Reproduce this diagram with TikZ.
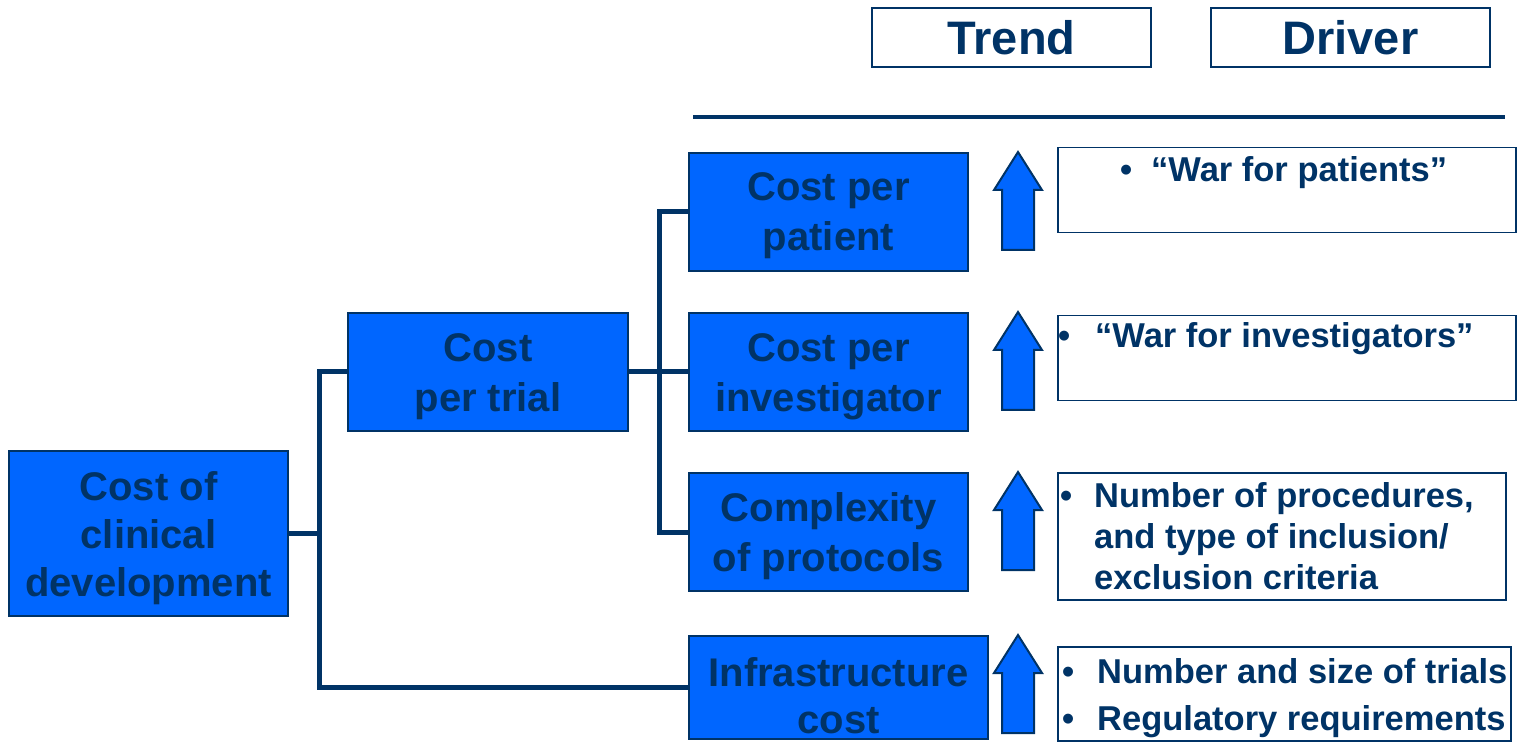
\documentclass[tikz,border=0pt]{standalone}
\usepackage{fontspec}
\setmainfont{Liberation Sans}
\usepackage{tikz}

\definecolor{navy}{RGB}{0,51,102}
\definecolor{boxblue}{RGB}{0,102,255}

\tikzset{
  uparr/.pic={
    \draw[navy,fill=boxblue,line width=2pt,line join=miter]
      (-16,0) -- (-16,-60) -- (-24,-60) -- (0,-98) -- (24,-60) -- (16,-60) -- (16,0) -- cycle;
  }
}

\begin{document}
\begin{tikzpicture}[x=1pt,y=-1pt,
    every node/.style={text=navy,font=\bfseries},
    costbox/.style={draw=navy,line width=2pt,fill=boxblue,anchor=north west,align=center,
      minimum width=279pt,minimum height=118pt,text height=84pt,text depth=6pt,
      font=\bfseries\fontsize{40}{50}\selectfont},
    drvbox/.style={draw=navy,line width=1.5pt,anchor=north west,minimum width=458pt},
    drvtxt/.style={anchor=base west,inner sep=0pt,font=\bfseries\fontsize{34.5}{41}\selectfont},
    headbox/.style={draw=navy,line width=1.5pt,minimum width=279pt,minimum height=59pt,
      inner sep=0pt,font=\bfseries\fontsize{47}{56}\selectfont},
    conn/.style={draw=navy,line width=5pt}]
  \useasboundingbox (0,0) rectangle (1519,743);

  % column heads
  \node[headbox] (trend)  at (1011.5,37.5) {Trend};
  \node[headbox] (driver) at (1350.5,37.5) {Driver};
  \coordinate (rulel) at (693,117);
  \coordinate (ruler) at (1505,117);
  \draw[navy,line width=3.5pt] (rulel) -- (ruler);

  % cost tree
  \node[costbox,minimum height=165pt,font=\bfseries\fontsize{40}{48}\selectfont,text height=130pt,text depth=5pt]
                                      (root)    at (8,450)   {Cost of\\clinical\\development};
  \node[costbox,minimum width=280pt]  (trial)   at (347,312) {Cost\\per trial};
  \node[costbox]                      (patient) at (688,152) {Cost per\\patient};
  \node[costbox]                      (invest)  at (688,312) {Cost per\\investigator};
  \node[costbox]                      (complex) at (688,472) {Complexity\\of protocols};
  \node[costbox,minimum width=299pt,minimum height=103pt,font=\bfseries\fontsize{40}{47}\selectfont,
        inner ysep=0pt,text height=96pt,text depth=5pt]  (infra) at (688,635) {Infrastructure\\cost};

  \path[conn] (root.east) -- ++(30,0) |- (trial.west);
  \path[conn] (root.east) -- ++(30,0) |- (infra.west);
  \path[conn] (trial.east) -- ++(30,0) |- (patient.west);
  \path[conn] (trial.east) -- (invest.west);
  \path[conn] (trial.east) -- ++(30,0) |- (complex.west);

  % trend arrows
  \pic at (1018,250) {uparr};
  \pic at (1018,410) {uparr};
  \pic at (1018,570) {uparr};
  \pic at (1018,733) {uparr};

  % drivers
  \node[drvbox,minimum height=85pt]  (d1) at (1057,147) {};
  \node[drvbox,minimum height=85pt]  (d2) at (1057,315) {};
  \node[drvbox,minimum width=448pt,minimum height=127pt] (d3) at (1057,472) {};
  \node[drvbox,minimum width=453pt,minimum height=94pt]  (d4) at (1057,646) {};

  \node[drvtxt] (t1) at (1120,182) {\begin{tabular}[t]{@{}p{31pt}@{}l@{}}•&“War for patients”\end{tabular}};
  \node[drvtxt] (t2) at (1058,348) {\begin{tabular}[t]{@{}p{37pt}@{}l@{}}•&“War for investigators”\end{tabular}};
  \node[drvtxt] (t3) at (1060,507) {\begin{tabular}[t]{@{}p{34pt}@{}l@{}}•&Number of procedures,\\&and type of inclusion/\\&exclusion criteria\end{tabular}};
  \node[drvtxt] (t4) at (1062,683) {\begin{tabular}[t]{@{}p{35pt}@{}l@{}}•&Number and size of trials\\[6pt]•&Regulatory requirements\end{tabular}};
\end{tikzpicture}
\end{document}
